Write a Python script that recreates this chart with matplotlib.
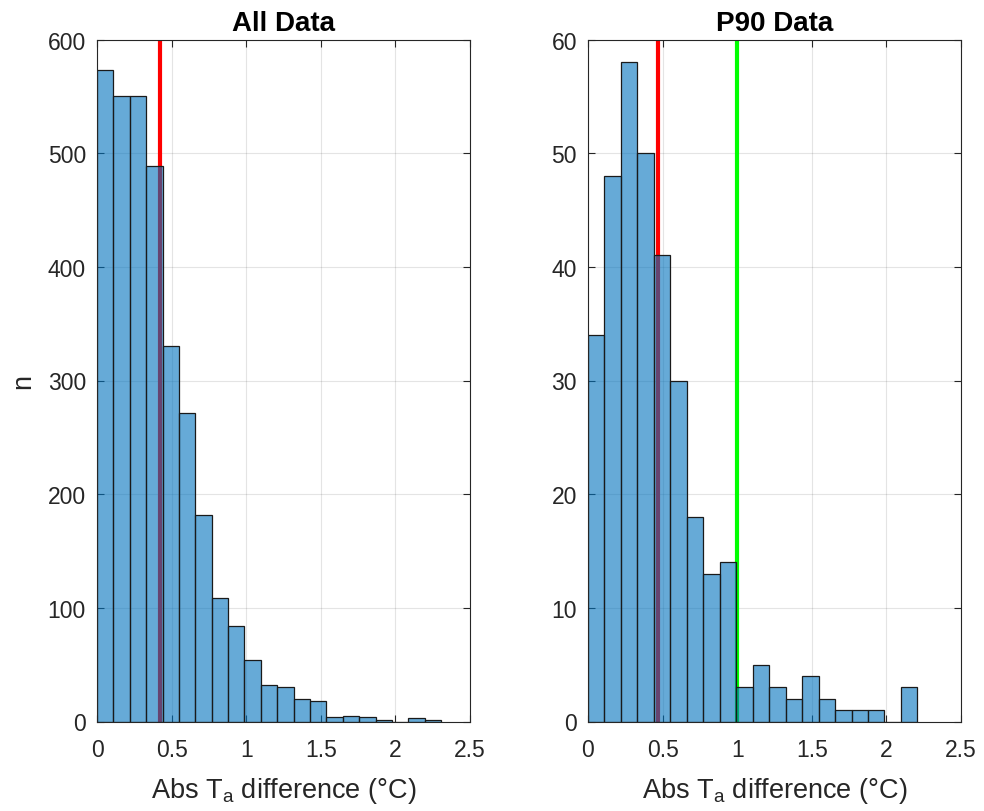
import numpy as np
import matplotlib
matplotlib.use("Agg")
import matplotlib.pyplot as plt

plt.rcParams['font.family'] = ['Liberation Sans', 'DejaVu Sans']
plt.rcParams['mathtext.fontset'] = 'custom'
plt.rcParams['mathtext.rm'] = 'Liberation Sans'
plt.rcParams['mathtext.it'] = 'Liberation Sans:italic'

# ---- data ----
all_max = 2.306
all_counts = [573, 550, 550, 489, 330, 271, 182, 109, 84, 54, 32, 30, 20, 18, 4, 5, 4, 1, 0, 3, 1]
all_red = 0.419

p90_max = 2.208
p90_counts = [34, 48, 58, 50, 41, 30, 18, 13, 14, 3, 5, 3, 2, 4, 2, 1, 1, 1, 0, 3]
p90_red = 0.469
p90_green = 1.0

titles = ["All Data", "P90 Data"]
xticks = [0, 0.5, 1, 1.5, 2, 2.5]
xticklabels = ["0", "0.5", "1", "1.5", "2", "2.5"]
yticks_all = [0, 100, 200, 300, 400, 500, 600]
yticks_p90 = [0, 10, 20, 30, 40, 50, 60]

face = (0, 0.447, 0.741, 0.6)
axcol = (0.15, 0.15, 0.15)

fig = plt.figure(figsize=(9.84, 8.12), dpi=100)
ax1 = fig.add_axes([97/984, (812-722.5)/812, 373/984, 682/812])
ax2 = fig.add_axes([588/984, (812-722.5)/812, 373/984, 682/812])

def draw(ax, counts, vmax, lines, yticks, title, ylabel=None):
    edges = np.linspace(0, vmax, len(counts) + 1)
    for x, c in lines:
        ax.axvline(x, color=c, lw=3.0, zorder=1)
    ax.bar(edges[:-1], counts, width=np.diff(edges), align='edge',
           facecolor=face, edgecolor='#1a1a1a', linewidth=0.9, zorder=2)
    ax.set_xlim(0, 2.5)
    ax.set_ylim(yticks[0], yticks[-1])
    ax.set_xticks(xticks)
    ax.set_xticklabels(xticklabels)
    ax.set_yticks(yticks)
    ax.grid(True, color=(0.15, 0.15, 0.15), alpha=0.12, lw=0.8, zorder=0)
    ax.set_axisbelow(True)
    ax.tick_params(direction='in', top=True, right=True, length=5, width=0.8,
                   colors=axcol, labelsize=16.5)
    ax.tick_params(axis='x', pad=12)
    ax.tick_params(axis='y', pad=8)
    for s in ax.spines.values():
        s.set_color(axcol)
        s.set_linewidth(0.8)
    ax.set_title(title, fontsize=20, fontweight='bold', pad=7)
    ax.set_xlabel(r'Abs T$_{\mathrm{a}}$ difference (°C)', fontsize=19.5, color=axcol, labelpad=10)
    if ylabel:
        ax.set_ylabel(ylabel, fontsize=19.5, color=axcol, labelpad=8)

draw(ax1, all_counts, all_max, [(all_red, '#ff0000')], yticks_all, titles[0], 'n')
draw(ax2, p90_counts, p90_max, [(p90_red, '#ff0000'), (p90_green, '#00ff00')], yticks_p90, titles[1])

fig.savefig("out.png", dpi=100)
